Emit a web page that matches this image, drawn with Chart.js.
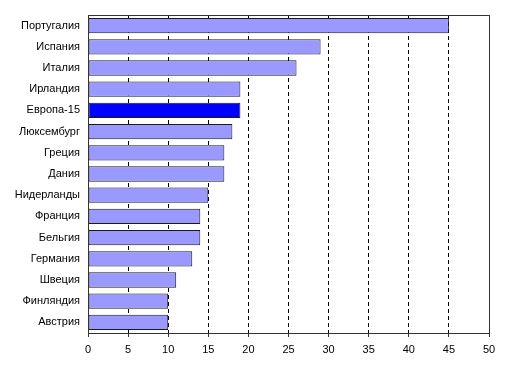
<!DOCTYPE html>
<html>
<head>
<meta charset="utf-8">
<script src="https://cdn.jsdelivr.net/npm/chart.js@4/dist/chart.umd.min.js"></script>
<style>
  html, body { margin: 0; padding: 0; background: #fff; }
  #wrap { width: 512px; height: 375px; }
</style>
</head>
<body>
<div id="wrap"><canvas id="chart" width="512" height="375"></canvas></div>
<script>
const countries = [
  'Португалия', 'Испания', 'Италия', 'Ирландия', 'Европа-15',
  'Люксембург', 'Греция', 'Дания', 'Нидерланды', 'Франция',
  'Бельгия', 'Германия', 'Швеция', 'Финляндия', 'Австрия'
];
const values = [45, 29, 26, 19, 19, 18, 17, 17, 15, 14, 14, 13, 11, 10, 10];
const highlight = 'Европа-15';
const xTicks = [0, 5, 10, 15, 20, 25, 30, 35, 40, 45, 50];

const barColors = countries.map((name) => (name === highlight ? '#0000ff' : '#9999ff'));

// frame round the plot area
const plotFrame = {
  id: 'plotFrame',
  afterDatasetsDraw(chart) {
    const { ctx, chartArea } = chart;
    ctx.save();
    ctx.strokeStyle = '#333333';
    ctx.lineWidth = 1;
    ctx.setLineDash([]);
    ctx.strokeRect(
      Math.round(chartArea.left) + 0.5,
      Math.round(chartArea.top) + 0.5,
      Math.round(chartArea.right - chartArea.left),
      Math.round(chartArea.bottom - chartArea.top)
    );
    ctx.restore();
  },
};

Chart.defaults.font.family = '"Liberation Sans", Arial, sans-serif';
Chart.defaults.font.size = 11;
Chart.defaults.color = '#000';

new Chart(document.getElementById('chart').getContext('2d'), {
  type: 'bar',
  data: {
    labels: countries,
    datasets: [{
      data: values,
      backgroundColor: barColors,
      borderColor: '#1a1a1a',
      borderWidth: 1,
      borderSkipped: false,
      barPercentage: 0.72,
      categoryPercentage: 1,
    }],
  },
  plugins: [plotFrame],
  options: {
    indexAxis: 'y',
    responsive: false,
    animation: false,
    layout: { padding: { top: 15, right: 23, left: 0, bottom: 0 } },
    plugins: {
      legend: { display: false },
      tooltip: { enabled: false },
    },
    scales: {
      x: {
        min: 0,
        max: 50,
        afterBuildTicks: (scale) => {
          scale.ticks = xTicks.map((value) => ({ value }));
        },
        afterFit: (scale) => { scale.height = 42; },
        grid: {
          color: '#000',
          lineWidth: 1,
          tickLength: 4,
          tickColor: '#333',
          tickBorderDash: [],
        },
        border: { display: true, color: '#333', dash: [4, 3] },
        ticks: { padding: 6, color: '#000', maxRotation: 0 },
      },
      y: {
        afterFit: (scale) => { scale.width = 88; },
        grid: { display: false },
        border: { display: true, color: '#333' },
        ticks: { padding: 0, color: '#000', autoSkip: false },
      },
    },
  },
});
</script>
</body>
</html>
